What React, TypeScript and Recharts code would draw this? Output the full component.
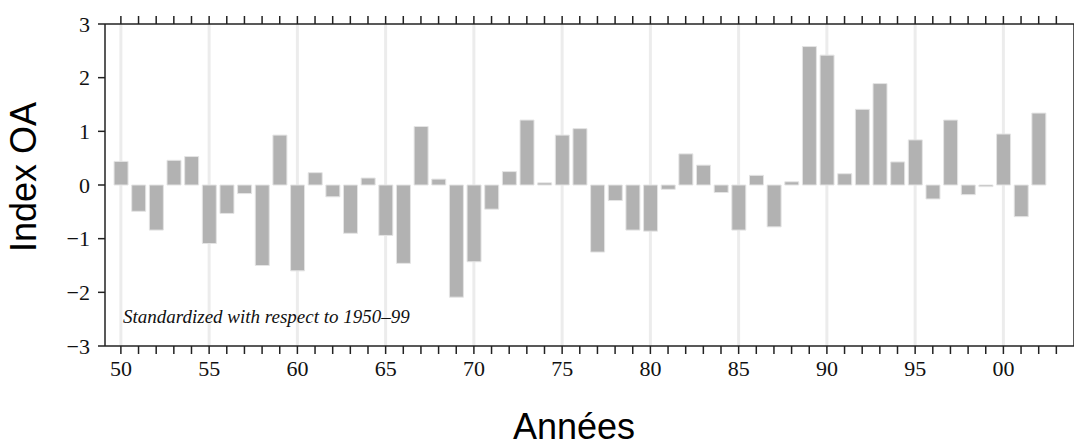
import { BarChart, Bar, XAxis, YAxis, CartesianGrid } from "recharts";

// OA index per year, 1950-2002
const years = [
  1950, 1951, 1952, 1953, 1954, 1955, 1956, 1957, 1958, 1959,
  1960, 1961, 1962, 1963, 1964, 1965, 1966, 1967, 1968, 1969,
  1970, 1971, 1972, 1973, 1974, 1975, 1976, 1977, 1978, 1979,
  1980, 1981, 1982, 1983, 1984, 1985, 1986, 1987, 1988, 1989,
  1990, 1991, 1992, 1993, 1994, 1995, 1996, 1997, 1998, 1999,
  2000, 2001, 2002,
];
const oaIndex = [
  0.44, -0.49, -0.84, 0.46, 0.53, -1.09, -0.53, -0.16, -1.5, 0.93,
  -1.6, 0.23, -0.22, -0.9, 0.13, -0.94, -1.46, 1.09, 0.11, -2.09,
  -1.43, -0.45, 0.25, 1.21, 0.04, 0.93, 1.05, -1.25, -0.29, -0.84,
  -0.86, -0.08, 0.58, 0.37, -0.14, -0.84, 0.18, -0.78, 0.06, 2.58,
  2.42, 0.21, 1.41, 1.89, 0.43, 0.84, -0.26, 1.21, -0.18, -0.03,
  0.95, -0.59, 1.34,
];
const yearTicks = Array.from({ length: 54 }, (_, i) => 1950 + i);
const gridYears = [1950, 1955, 1960, 1965, 1970, 1975, 1980, 1985, 1990, 1995, 2000];
const yTicks = [-3, -2, -1, 0, 1, 2, 3];

const data = years.map((y, i) => ({ year: y, value: oaIndex[i] }));

const serif = "'Liberation Serif', 'DejaVu Serif', serif";
const sans = "'Liberation Sans', Arial, sans-serif";
const axisColor = "#222";
const xDomain: [number, number] = [1949.1, 2004];

const fmtYear = (v: number) => (v % 5 === 0 ? String(v % 100).padStart(2, "0") : "");
const fmtY = (v: number) => (v < 0 ? "\u2212" + Math.abs(v) : String(v));
const blank = () => "";

// vertical grid only every 5 years, placed with the x axis scale
const gridX = (props: any) => {
  const scale = props?.xAxis?.scale;
  if (typeof scale === "function") return gridYears.map((y) => scale(y));
  const left = props.offset.left;
  const w = props.offset.width;
  return gridYears.map((y) => left + ((y - xDomain[0]) / (xDomain[1] - xDomain[0])) * w);
};

export default function App() {
  return (
    <div style={{ position: "absolute", left: 0, top: 0, width: 1074, height: 447, background: "#fff" }}>
      <BarChart
        width={1074}
        height={447}
        data={data}
        margin={{ top: 23, right: 0, bottom: 61, left: 45 }}
      >
        <CartesianGrid
          xAxisId="bottom"
          yAxisId="left"
          horizontal={false}
          verticalCoordinatesGenerator={gridX}
          stroke="#ececec"
          strokeWidth={3}
        />
        <XAxis
          xAxisId="bottom"
          dataKey="year"
          type="number"
          domain={xDomain}
          ticks={yearTicks}
          interval={0}
          tickFormatter={fmtYear}
          tickSize={8}
          tickMargin={6}
          height={40}
          stroke={axisColor}
          strokeWidth={1.5}
          tick={{ fill: "#111", fontFamily: serif, fontSize: 22 }}
        />
        <XAxis
          xAxisId="top"
          orientation="top"
          dataKey="year"
          type="number"
          domain={xDomain}
          ticks={yearTicks}
          interval={0}
          tickFormatter={blank}
          tickSize={8}
          height={1}
          stroke={axisColor}
          strokeWidth={1.5}
        />
        <YAxis
          yAxisId="left"
          domain={[-3, 3]}
          ticks={yTicks}
          interval={0}
          tickFormatter={fmtY}
          tickSize={7}
          tickMargin={8}
          width={60}
          stroke={axisColor}
          strokeWidth={1.5}
          tick={{ fill: "#111", fontFamily: serif, fontSize: 22 }}
        />
        <YAxis
          yAxisId="right"
          orientation="right"
          mirror
          domain={[-3, 3]}
          ticks={yTicks}
          interval={0}
          tickFormatter={blank}
          tickSize={7}
          width={1}
          stroke={axisColor}
          strokeWidth={1.5}
        />
        <Bar
          dataKey="value"
          xAxisId="bottom"
          yAxisId="left"
          barSize={14}
          fill="#b2b2b2"
          stroke="#e4e4e4"
          strokeWidth={1}
          isAnimationActive={false}
        />
      </BarChart>
      <div
        style={{
          position: "absolute",
          left: 123,
          top: 306,
          fontFamily: serif,
          fontStyle: "italic",
          fontSize: 19,
          color: "#111",
          whiteSpace: "nowrap",
        }}
      >
        Standardized with respect to 1950–99
      </div>
      <div
        style={{
          position: "absolute",
          left: 574,
          top: 409,
          transform: "translateX(-50%)",
          fontFamily: sans,
          fontSize: 36,
          color: "#000",
          whiteSpace: "nowrap",
          lineHeight: 1,
        }}
      >
        Années
      </div>
      <div
        style={{
          position: "absolute",
          left: 24,
          top: 177,
          transform: "translate(-50%, -50%) rotate(-90deg)",
          fontFamily: sans,
          fontSize: 36,
          color: "#000",
          whiteSpace: "nowrap",
          lineHeight: 1,
        }}
      >
        Index OA
      </div>
    </div>
  );
}
